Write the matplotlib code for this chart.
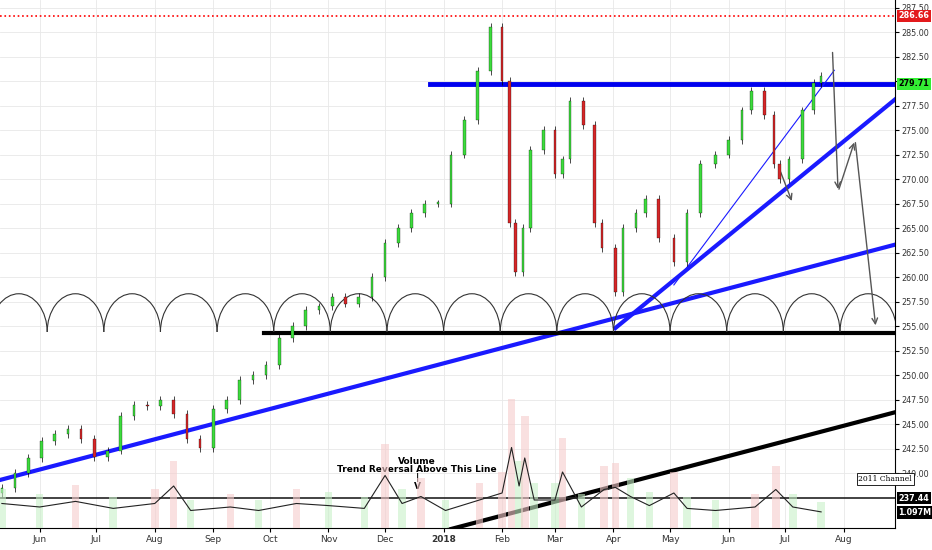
import matplotlib
matplotlib.use("Agg")
import matplotlib.pyplot as plt
from matplotlib.patches import Arc
import numpy as np
import pandas as pd

# price path (date, close)
dates = ["2017-05-12", "2017-05-19", "2017-05-26", "2017-06-02", "2017-06-09", "2017-06-16",
         "2017-06-23", "2017-06-30", "2017-07-07", "2017-07-14", "2017-07-21", "2017-07-28",
         "2017-08-04", "2017-08-11", "2017-08-18", "2017-08-25", "2017-09-01", "2017-09-08",
         "2017-09-15", "2017-09-22", "2017-09-29", "2017-10-06", "2017-10-13", "2017-10-20",
         "2017-10-27", "2017-11-03", "2017-11-10", "2017-11-17", "2017-11-24", "2017-12-01",
         "2017-12-08", "2017-12-15", "2017-12-22", "2017-12-29", "2018-01-05", "2018-01-12",
         "2018-01-19", "2018-01-26", "2018-02-01", "2018-02-05", "2018-02-08", "2018-02-12",
         "2018-02-16", "2018-02-23", "2018-03-01", "2018-03-05", "2018-03-09", "2018-03-16",
         "2018-03-22", "2018-03-26", "2018-04-02", "2018-04-06", "2018-04-13", "2018-04-18",
         "2018-04-25", "2018-05-03", "2018-05-10", "2018-05-17", "2018-05-25", "2018-06-01",
         "2018-06-08", "2018-06-13", "2018-06-20", "2018-06-25", "2018-06-28", "2018-07-03",
         "2018-07-10", "2018-07-16", "2018-07-20"]
closes = [238.5, 240.0, 241.5, 243.3, 244.0, 244.5, 243.5, 241.6, 242.3, 245.8, 247.0, 246.8,
          247.5, 246.0, 243.5, 242.6, 246.5, 247.5, 249.5, 250.0, 251.0, 253.8, 255.0, 256.6,
          257.0, 258.0, 257.3, 258.0, 260.0, 263.5, 265.0, 266.5, 267.5, 267.5, 272.5, 276.0,
          281.0, 285.5, 280.0, 265.5, 260.5, 265.0, 273.0, 275.0, 270.5, 272.0, 278.0, 275.5,
          265.5, 263.0, 258.5, 265.0, 266.5, 268.0, 264.0, 261.5, 266.5, 271.5, 272.5, 274.0,
          277.0, 279.0, 276.5, 271.5, 270.0, 272.0, 277.0, 279.8, 280.5]

# volume moving line (in M)
vol_dates = ["2017-05-12", "2017-06-01", "2017-06-20", "2017-07-10", "2017-08-01", "2017-08-11",
             "2017-08-20", "2017-09-10", "2017-09-25", "2017-10-15", "2017-11-01", "2017-11-20",
             "2017-12-01", "2017-12-10", "2017-12-20", "2018-01-02", "2018-01-20", "2018-02-01",
             "2018-02-06", "2018-02-10", "2018-02-13", "2018-02-18", "2018-03-01", "2018-03-05",
             "2018-03-15", "2018-03-27", "2018-04-02", "2018-04-10", "2018-04-20", "2018-05-03",
             "2018-05-10", "2018-05-25", "2018-06-15", "2018-06-26", "2018-07-05", "2018-07-20"]
vol_line = [3.5, 3.0, 3.8, 2.8, 3.5, 6.0, 2.5, 3.0, 2.5, 3.5, 3.2, 2.8, 7.5, 3.5, 4.5, 2.5,
            4.0, 5.0, 11.5, 6.0, 10.0, 4.0, 4.0, 8.0, 3.0, 5.5, 5.8, 4.5, 3.2, 5.0, 2.8,
            2.5, 3.0, 5.5, 3.0, 2.3]

t0 = pd.Timestamp("2017-06-01")
def days(d):
    return (pd.to_datetime(d) - t0).days

x = np.array([days(d) for d in dates])
c = np.array(closes)
vx = np.array([days(d) for d in vol_dates])
vy = np.array(vol_line)

fig = plt.figure(figsize=(9.32, 5.5), dpi=100)
ax = fig.add_axes([0, 0.04, 0.96, 0.96])
ax.set_xlim(-21, 453)
ax.set_ylim(234.4, 288.27)

# candles
opens = np.r_[c[0] - 0.5, c[:-1]]
for xi, o, cl in zip(x, opens, c):
    col = "#3ddc3d" if cl >= o else "#d62728"
    lo, hi = min(o, cl), max(o, cl)
    ax.vlines(xi, lo - 0.4, hi + 0.4, color="k", lw=0.5, zorder=3)
    ax.bar(xi, max(hi - lo, 0.2), bottom=lo, width=1.4, color=col, edgecolor="k", lw=0.2, zorder=4)

# volume pane
vax = ax.twinx()
vax.set_ylim(0, 75.4)
vax.set_yticks([])
up = np.r_[True, vy[1:] <= vy[:-1]]
vax.bar(vx, vy * 1.6, width=4, color=np.where(up, "#c8f0c8", "#f6cccc"), alpha=0.6, zorder=1)
vax.plot(vx, vy, color="#222", lw=0.8)
for s in vax.spines.values():
    s.set_visible(False)

# lines
ax.axhline(286.66, color="red", ls=":", lw=1.2)
ax.plot([days("2017-12-25"), 453], [279.71, 279.71], color="#0000ee", lw=3.5)
ax.plot([-21, 453], [239.3, 263.3], color="#1a1aff", lw=3)
ax.plot([days("2018-04-02"), 453], [254.8, 278.1], color="#1a1aff", lw=3)
ax.plot([days("2018-05-03"), days("2018-07-27")], [259.2, 281.1], color="#1a1aff", lw=0.8)
ax.plot([days("2017-09-28"), 453], [254.3, 254.3], color="k", lw=3)
ax.plot([days("2018-01-03"), 453], [234.2, 246.2], color="k", lw=3)
ax.axhline(237.44, color="#222", lw=1.2)

# half cycle arcs
for k in range(16):
    cx = -11 + 30 * k
    ax.add_patch(Arc((cx, 254.4), 30, 7.8, theta1=0, theta2=180, color="#333", lw=0.8, zorder=2))

# projection arrows
ap = dict(arrowstyle="->", color="#555", lw=1)
ax.annotate("", xy=(days("2018-07-29"), 268.7), xytext=(days("2018-07-26"), 283.2), arrowprops=ap)
ax.annotate("", xy=(days("2018-08-07"), 274.0), xytext=(days("2018-07-29"), 268.7), arrowprops=ap)
ax.annotate("", xy=(days("2018-08-18"), 254.8), xytext=(days("2018-08-07"), 274.0), arrowprops=ap)
ax.annotate("", xy=(days("2018-07-05"), 267.5), xytext=(days("2018-06-28"), 271.0), arrowprops=ap)

ax.text(days("2017-12-18"), 238.2, "Volume\nTrend Reversal Above This Line\n|\nV",
        ha="center", va="bottom", fontsize=6.5, fontweight="bold", linespacing=0.9)
ax.text(days("2018-08-23"), 239.4, "2011 Channel", fontsize=5.5, family="DejaVu Serif",
        ha="center", va="center", bbox=dict(fc="white", ec="k", lw=0.6, pad=1.2))

# axes styling
ticks = np.arange(240, 288, 2.5)
ax.yaxis.tick_right()
ax.set_yticks(ticks)
ax.set_yticklabels([f"{t:.2f}" for t in ticks], fontsize=5.8, color="#333")
months = ["2017-06-01", "2017-07-01", "2017-08-01", "2017-09-01", "2017-10-01", "2017-11-01",
          "2017-12-01", "2018-01-01", "2018-02-01", "2018-03-01", "2018-04-01", "2018-05-01",
          "2018-06-01", "2018-07-01", "2018-08-01"]
mlabels = ["Jun", "Jul", "Aug", "Sep", "Oct", "Nov", "Dec", "2018", "Feb", "Mar", "Apr", "May",
           "Jun", "Jul", "Aug"]
ax.set_xticks([days(m) for m in months])
ax.set_xticklabels(mlabels, fontsize=6.5, color="#333")
for lbl in ax.get_xticklabels():
    if lbl.get_text() == "2018":
        lbl.set_fontweight("bold")
ax.grid(True, color="#e8e8e8", lw=0.6)
ax.tick_params(length=3, pad=2)
for side in ["top", "left"]:
    ax.spines[side].set_visible(False)

# price tags on the right axis
def tag(y, s, bg, fg="white"):
    ax.text(1.004, y, s, transform=ax.get_yaxis_transform(), fontsize=5.8, color=fg,
            va="center", ha="left", fontweight="bold",
            bbox=dict(fc=bg, ec="none", pad=1.2), clip_on=False, zorder=10)
tag(286.66, "286.66", "#e31a1c")
tag(279.71, "279.71", "#33ee33", "black")
tag(237.44, "237.44", "black")
tag(236.0, "1.097M", "black")

fig.savefig("out.png", dpi=100)
